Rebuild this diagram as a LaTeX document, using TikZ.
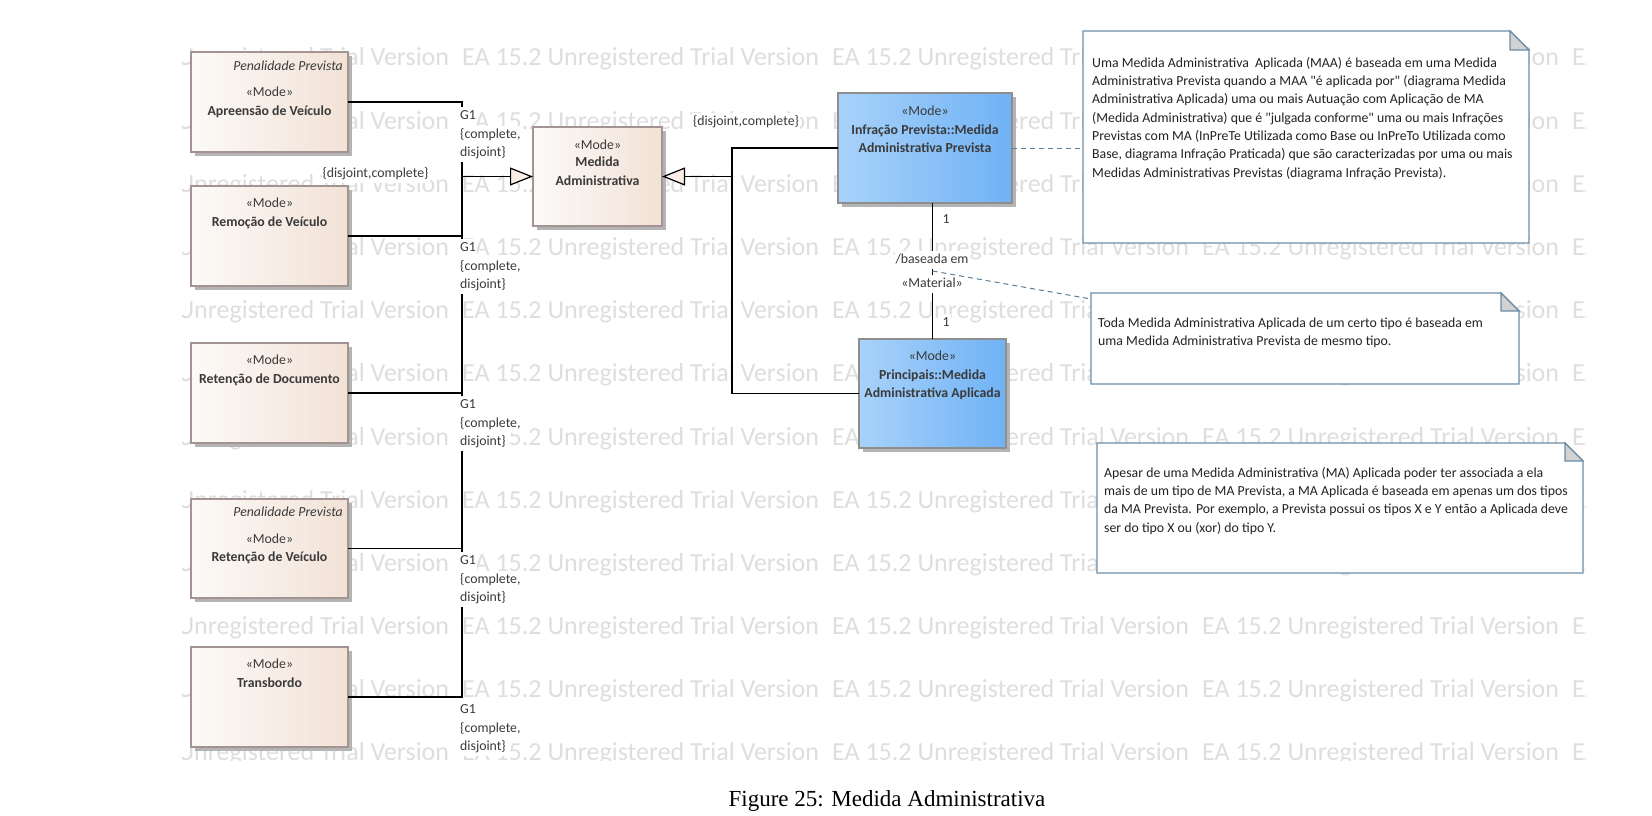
\documentclass[tikz,border=0pt]{standalone}
\usepackage{fontspec}
\setmainfont{Carlito}[Ligatures=TeXOff]
\newfontfamily\capfont{Liberation Serif}
\usetikzlibrary{arrows.meta,shadows}
\definecolor{wmc}{HTML}{DEDEDE}
\definecolor{modeL}{HTML}{FCFAF8}
\definecolor{modeR}{HTML}{F2E2D6}
\definecolor{modeborder}{HTML}{A39393}
\definecolor{blueL}{HTML}{A8D2FA}
\definecolor{blueR}{HTML}{70B2F5}
\definecolor{blueborder}{HTML}{8E8E8E}
\definecolor{shadowc}{HTML}{B4B4B4}
\definecolor{txtc}{HTML}{3A3A3A}
\definecolor{notetxtc}{HTML}{222222}
\definecolor{arrowfill}{HTML}{FCEEE6}
\definecolor{noteborder}{HTML}{6C8CA6}
\definecolor{foldc}{HTML}{D2D2D2}
\definecolor{dashc}{HTML}{5A7F99}
\begin{document}
\begin{tikzpicture}[x=1pt,y=-1pt,
  wm/.style={anchor=base west, inner sep=0pt, text=wmc, font=\fontsize{26}{26}\selectfont},
  modebox/.style={draw=modeborder, line width=1.3pt, left color=modeL, right color=modeR,
    minimum width=157pt, minimum height=100pt, inner sep=0pt, outer sep=0pt, anchor=north west,
    drop shadow={shadow xshift=4pt, shadow yshift=-4pt, fill=shadowc, opacity=1}},
  bluebox/.style={modebox, draw=blueborder, left color=blueL, right color=blueR},
  btxt/.style={inner sep=0pt, text=txtc, text height=10pt, text depth=3.5pt, font=\fontsize{13.8}{16}\selectfont},
  bname/.style={btxt, font=\fontsize{13.8}{16}\selectfont\bfseries},
  pen/.style={btxt, anchor=east, font=\fontsize{13.8}{16}\selectfont\itshape},
  lbl/.style={fill=white, inner xsep=1pt, inner ysep=2.7pt, text=txtc, text height=10pt, text depth=3.5pt, font=\fontsize{13.8}{16}\selectfont},
  conn/.style={draw=black, line width=1.2pt},
  gen/.style={conn, -{Triangle[length=23pt,width=18pt,fill=arrowfill]}},
  noteframe/.style={anchor=north west, inner sep=0pt, outer sep=0pt},
  noteshape/.style={draw=noteborder, line width=1.2pt, fill=white, line join=miter},
  fold/.style={draw=noteborder, line width=1.2pt, fill=foldc, line join=miter},
  notetxt/.style={anchor=north west, inner sep=0pt, align=left, text=notetxtc, font=\fontsize{13.8}{18.33}\selectfont},
  notedash/.style={draw=dashc, line width=1pt, dash pattern=on 5pt off 4pt},
]
\useasboundingbox (0,0) rectangle (1652,816);
\fill[white] (0,0) rectangle (1652,816);

% watermark
\begin{scope}
\clip (182,40) rectangle (1585,760);
\foreach \r in {0,...,11} {
  \foreach \c in {-1,...,3} {
    \node[wm] (wm-\r-\c) at ({462+370*\c},{66+63.18*\r}) {EA 15.2 Unregistered Trial Version};
  }
}
\end{scope}

% left boxes
\node[modebox] (ap) at (191,52) {};
\node[pen] (ap-p) at ([xshift=-5pt,yshift=-15pt]ap.north east) {Penalidade Prevista};
\node[btxt] (ap-s) at ([yshift=-41pt]ap.north) {«Mode»};
\node[bname] (ap-n) at ([yshift=-60pt]ap.north) {Apreensão de Veículo};

\node[modebox] (rm) at (191,186) {};
\node[btxt] (rm-s) at ([yshift=-18.5pt]rm.north) {«Mode»};
\node[bname] (rm-n) at ([yshift=-37pt]rm.north) {Remoção de Veículo};

\node[modebox] (rd) at (191,343) {};
\node[btxt] (rd-s) at ([yshift=-18.5pt]rd.north) {«Mode»};
\node[bname] (rd-n) at ([yshift=-37pt]rd.north) {Retenção de Documento};

\node[modebox, minimum height=99pt] (rv) at (191,499) {};
\node[pen] (rv-p) at ([xshift=-5pt,yshift=-14pt]rv.north east) {Penalidade Prevista};
\node[btxt] (rv-s) at ([yshift=-41pt]rv.north) {«Mode»};
\node[bname] (rv-n) at ([yshift=-59pt]rv.north) {Retenção de Veículo};

\node[modebox] (tb) at (191,647) {};
\node[btxt] (tb-s) at ([yshift=-18.5pt]tb.north) {«Mode»};
\node[bname] (tb-n) at ([yshift=-37pt]tb.north) {Transbordo};

% central box
\node[modebox, minimum width=129pt, minimum height=99pt] (md) at (533,127) {};
\node[btxt] (md-s) at ([yshift=-19pt]md.north) {«Mode»};
\node[bname] (md-n1) at ([yshift=-36.5pt]md.north) {Medida};
\node[bname] (md-n2) at ([yshift=-55pt]md.north) {Administrativa};

% blue boxes
\node[bluebox, minimum width=174pt, minimum height=110pt] (ip) at (838,93) {};
\node[btxt] (ip-s) at ([yshift=-19pt]ip.north) {«Mode»};
\node[bname] (ip-n1) at ([yshift=-38pt]ip.north) {Infração Prevista::Medida};
\node[bname] (ip-n2) at ([yshift=-56pt]ip.north) {Administrativa Prevista};

\node[bluebox, minimum width=147pt, minimum height=109pt] (pa) at (859,339) {};
\node[btxt] (pa-s) at ([yshift=-18pt]pa.north) {«Mode»};
\node[bname] (pa-n1) at ([yshift=-37pt]pa.north) {Principais::Medida};
\node[bname] (pa-n2) at ([yshift=-55pt]pa.north) {Administrativa Aplicada};

% generalization set, left
\coordinate (trunk) at (462,0);
\draw[conn] (ap.east) -- (ap.east -| trunk) -- (tb.east -| trunk) -- (tb.east);
\draw[conn] (rm.east) -- (rm.east -| trunk);
\draw[conn] (rd.east) -- (rd.east -| trunk);
\draw[conn] (rv.east) -- (rv.east -| trunk);
\draw[gen] (md.west -| trunk) -- (md.west);

% generalization set, right
\coordinate (rtrunk) at (732,0);
\draw[conn] (ip.west) -- (ip.west -| rtrunk) -- (pa.west -| rtrunk) -- (pa.west);
\draw[gen] (md.east -| rtrunk) -- (md.east);

% association
\draw[conn] (pa.north) -- (pa.north |- ip.south);

% G1 labels
\foreach \n/\y in {ga/102, gb/234, gc/391, gd/547, ge/696} {
  \node[lbl, anchor=west] (\n-1) at (459,\y+14.5) {G1};
  \node[lbl, anchor=west] (\n-2) at (459,\y+33) {\{complete,};
  \node[lbl, anchor=west] (\n-3) at (459,\y+51) {disjoint\}};
}
\node[lbl] (dcl) at (375.5,174) {\{disjoint,complete\}};
\node[lbl] (dcr) at (746,122) {\{disjoint,complete\}};

% association labels
\node[lbl] (m1) at (946,220) {1};
\node[lbl] (m2) at (946,323) {1};
\node[lbl] (asn) at (932,260) {/baseada em};
\node[lbl] (ast) at (932,284) {«Material»};
\coordinate (asmid) at (932.5,271);

% notes
\node[noteframe, minimum width=446pt, minimum height=212pt] (n1) at (1083,31) {};
\draw[noteshape] (n1.north west) -- ([xshift=-19pt]n1.north east) -- ([yshift=-19pt]n1.north east) -- (n1.south east) -- (n1.south west) -- cycle;
\draw[fold] ([xshift=-19pt]n1.north east) -- ([xshift=-19pt,yshift=-19pt]n1.north east) -- ([yshift=-19pt]n1.north east) -- cycle;
\node[notetxt] (n1-t) at (1092,55) {\rule{0pt}{12pt}Uma Medida Administrativa~ Aplicada (MAA) é baseada em uma Medida\\
Administrativa Prevista quando a MAA "é aplicada por" (diagrama Medida\\
Administrativa Aplicada) uma ou mais Autuação com Aplicação de MA\\
(Medida Administrativa) que é "julgada conforme" uma ou mais Infrações\\
Previstas com MA (InPreTe Utilizada como Base ou InPreTo Utilizada como\\
Base, diagrama Infração Praticada) que são caracterizadas por uma ou mais\\
Medidas Administrativas Previstas (diagrama Infração Prevista).};

\node[noteframe, minimum width=428pt, minimum height=91pt] (n2) at (1091,293) {};
\draw[noteshape] (n2.north west) -- ([xshift=-18pt]n2.north east) -- ([yshift=-18pt]n2.north east) -- (n2.south east) -- (n2.south west) -- cycle;
\draw[fold] ([xshift=-18pt]n2.north east) -- ([xshift=-18pt,yshift=-18pt]n2.north east) -- ([yshift=-18pt]n2.north east) -- cycle;
\node[notetxt] (n2-t) at (1098,315) {\rule{0pt}{12pt}Toda Medida Administrativa Aplicada de um certo tipo é baseada em\\
uma Medida Administrativa Prevista de mesmo tipo.};

\node[noteframe, minimum width=486pt, minimum height=130pt] (n3) at (1097,443) {};
\draw[noteshape] (n3.north west) -- ([xshift=-18pt]n3.north east) -- ([yshift=-18pt]n3.north east) -- (n3.south east) -- (n3.south west) -- cycle;
\draw[fold] ([xshift=-18pt]n3.north east) -- ([xshift=-18pt,yshift=-18pt]n3.north east) -- ([yshift=-18pt]n3.north east) -- cycle;
\node[notetxt] (n3-t) at (1104,465) {\rule{0pt}{12pt}Apesar de uma Medida Administrativa (MA) Aplicada poder ter associada a ela\\
mais de um tipo de MA Prevista, a MA Aplicada é baseada em apenas um dos tipos\\
da MA Prevista. Por exemplo, a Prevista possui os tipos X e Y então a Aplicada deve\\
ser do tipo X ou (xor) do tipo Y.};

% note links
\draw[notedash] (ip.east) -- (ip.east -| n1.west);
\draw[notedash] (asmid) -- ([yshift=-6pt]n2.north west);

% caption
\node[inner sep=0pt, font=\capfont\fontsize{23}{23}\selectfont] (cap) at (887,801) {Figure 25: Medida Administrativa};
\end{tikzpicture}
\end{document}
